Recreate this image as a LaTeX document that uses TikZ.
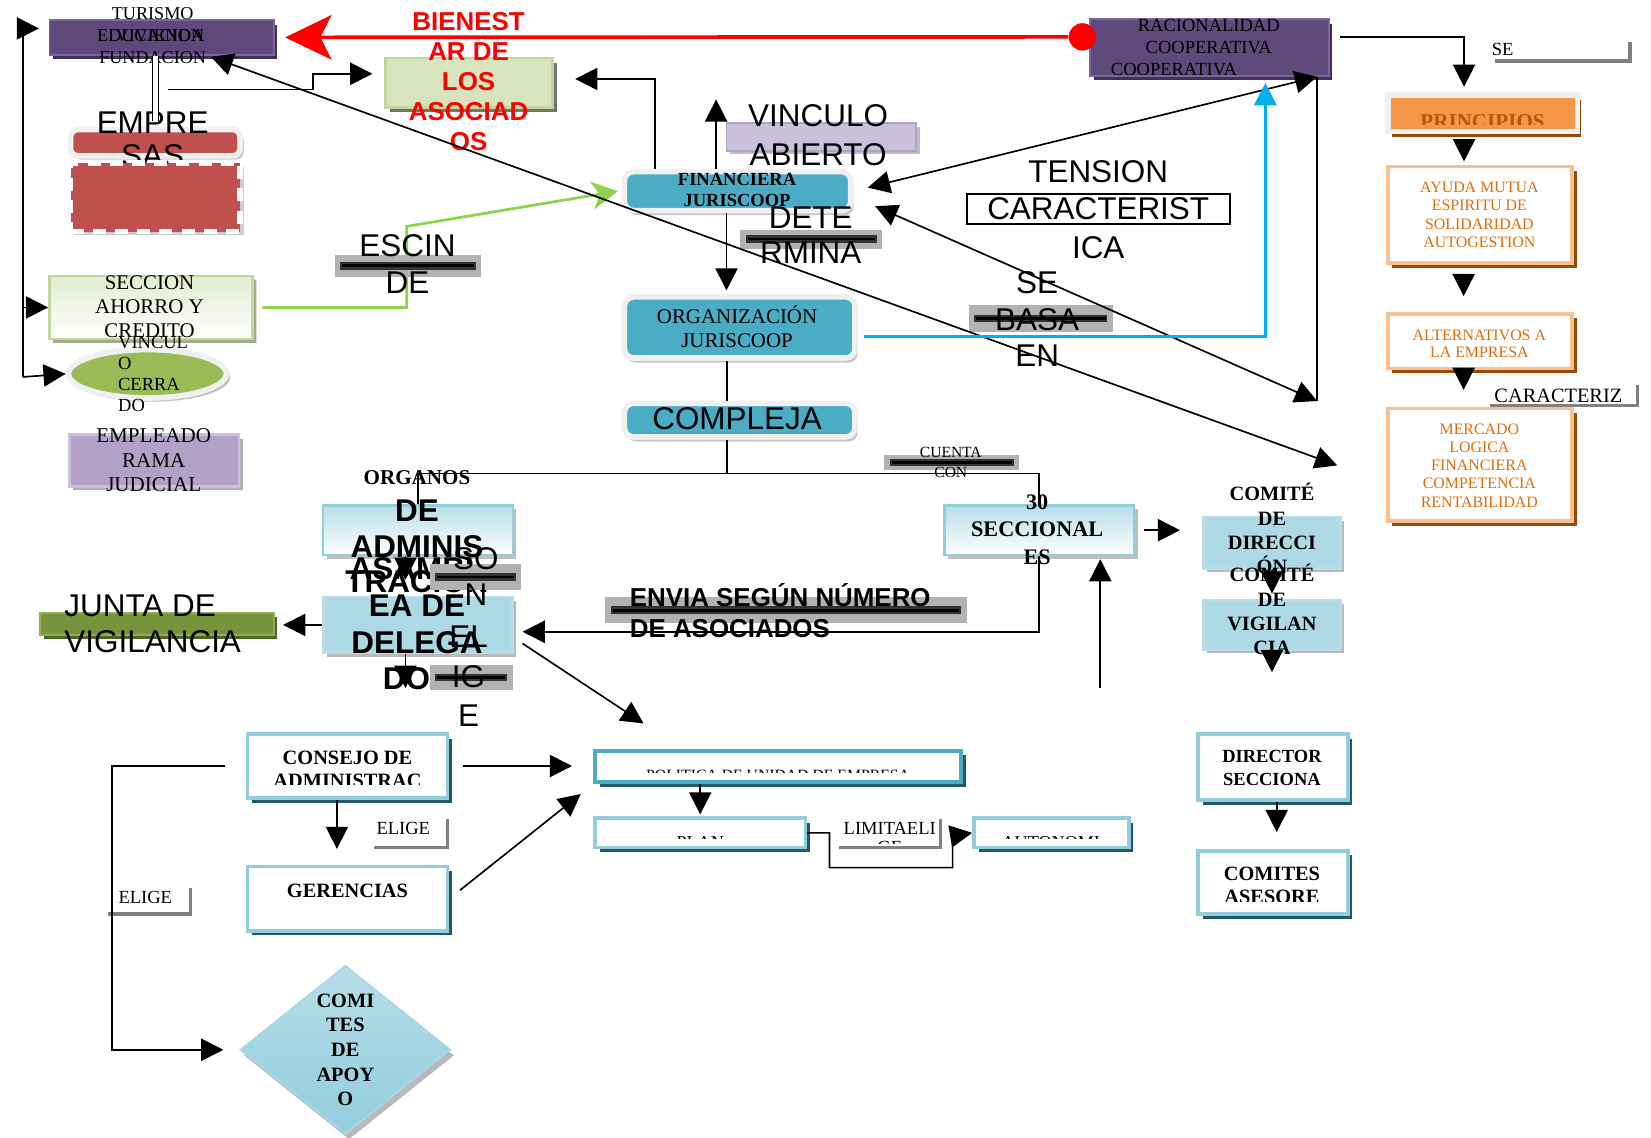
\documentclass[tikz,border=0pt]{standalone}
\usepackage{fontspec}
\setmainfont{Liberation Serif}
\setsansfont{Liberation Sans}
\usetikzlibrary{arrows.meta,shapes.geometric,shapes.misc,shadows}
\definecolor{purpleF}{HTML}{5F497A}
\definecolor{purpleD}{HTML}{8064A2}
\definecolor{purpleS}{HTML}{3F3151}
\definecolor{redE}{HTML}{C0504D}
\definecolor{greenL}{HTML}{D7E4BD}
\definecolor{greenB}{HTML}{C3D69B}
\definecolor{greenM}{HTML}{9BBB59}
\definecolor{greenD}{HTML}{4F6228}
\definecolor{olive}{HTML}{77933C}
\definecolor{lilac}{HTML}{B3A2C7}
\definecolor{lilacL}{HTML}{CCC1DA}
\definecolor{blueJ}{HTML}{4BACC6}
\definecolor{blueL}{HTML}{B7DDE8}
\definecolor{blueM}{HTML}{92CDDC}
\definecolor{blueS}{HTML}{215968}
\definecolor{cyanL}{HTML}{00B0F0}
\definecolor{greenA}{HTML}{92D050}
\definecolor{orangeF}{HTML}{F79646}
\definecolor{orangeB}{HTML}{FAC090}
\definecolor{orangeS}{HTML}{984807}
\definecolor{orangeT}{HTML}{E36C09}
\newcommand{\fsz}[2]{\fontsize{#1}{#2}\selectfont}
\begin{document}
\begin{tikzpicture}[x=0.02cm,y=-0.02cm,>={Triangle[length=12pt,width=12pt]}]
\tikzstyle{purplebox}=[rectangle,inner sep=0pt,fill=purpleF,draw=purpleD,line width=1pt,drop shadow={shadow xshift=2pt,shadow yshift=-2.5pt,fill=purpleS,opacity=1}]
\tikzstyle{greenbox}=[rectangle,inner sep=0pt,fill=greenL,draw=greenB,line width=1.5pt,drop shadow={shadow xshift=2.5pt,shadow yshift=-2.5pt,fill=gray!70!greenD,opacity=1}]
\tikzstyle{redtop}=[rectangle,inner sep=0pt,rounded corners=4pt,fill=redE,draw=white!94!black,line width=3pt,drop shadow={shadow xshift=2pt,shadow yshift=-2pt,fill=gray!40,opacity=1}]
\tikzstyle{redbot}=[rectangle,inner sep=0pt,fill=redE,draw=white,line width=3pt,dash pattern=on 7pt off 5pt,drop shadow={shadow xshift=2pt,shadow yshift=-2pt,fill=gray!40,opacity=1}]
\tikzstyle{sacbox}=[chamfered rectangle,chamfered rectangle xsep=6pt,inner sep=0pt,top color=greenL!70,bottom color=white,draw=greenB,line width=1.5pt,drop shadow={shadow xshift=2pt,shadow yshift=-2pt,fill=gray!50!greenB,opacity=1}]
\tikzstyle{vinshape}=[ellipse,inner sep=0pt,fill=greenM,draw=white!94!black,line width=3pt,drop shadow={shadow xshift=2pt,shadow yshift=-2pt,fill=gray!50,opacity=1}]
\tikzstyle{lilacbox}=[rectangle,inner sep=0pt,fill=lilac,draw=lilacL,line width=1.5pt,drop shadow={shadow xshift=2pt,shadow yshift=-2pt,fill=gray!60,opacity=1}]
\tikzstyle{lilacpale}=[rectangle,inner sep=0pt,fill=lilacL,draw=lilac,line width=1pt,drop shadow={shadow xshift=2pt,shadow yshift=-2pt,fill=gray!50,opacity=1}]
\tikzstyle{jbox}=[rectangle,inner sep=0pt,rounded corners=5pt,fill=blueJ,draw=white!94!black,line width=3pt,drop shadow={shadow xshift=1.5pt,shadow yshift=-2.5pt,fill=gray!45,opacity=1}]
\tikzstyle{gradbox}=[rectangle,inner sep=0pt,top color=blueL,bottom color=white,draw=blueM,line width=1.2pt,drop shadow={shadow xshift=2pt,shadow yshift=-2pt,fill=gray!50,opacity=1}]
\tikzstyle{hatchbox}=[rectangle,inner sep=0pt,fill=blueM!75,draw=blueL,line width=1.5pt,drop shadow={shadow xshift=2pt,shadow yshift=-2pt,fill=gray!55,opacity=1}]
\tikzstyle{olivebox}=[rectangle,inner sep=0pt,fill=olive,draw=greenM!70!olive,line width=1pt,drop shadow={shadow xshift=2pt,shadow yshift=-2pt,fill=greenD,opacity=1}]
\tikzstyle{whitebox}=[rectangle,inner sep=0pt,fill=white,draw=blueM,line width=2pt,drop shadow={shadow xshift=2.5pt,shadow yshift=-2.5pt,fill=blueS,opacity=1}]
\tikzstyle{prinbox}=[rectangle,inner sep=0pt,fill=orangeF,draw=white!94!black,line width=3pt,drop shadow={shadow xshift=2pt,shadow yshift=-3pt,fill=orangeS,opacity=1}]
\tikzstyle{orangebox}=[rectangle,inner sep=0pt,fill=white,draw=orangeB,line width=2pt,drop shadow={shadow xshift=2.5pt,shadow yshift=-2.5pt,fill=orangeS,opacity=1}]
\tikzstyle{apobox}=[diamond,aspect=1.25,inner sep=0pt,top color=blueL,bottom color=blueM,draw=blueM!80,line width=1pt,drop shadow={shadow xshift=2pt,shadow yshift=-3pt,fill=gray!55,opacity=1}]
\tikzstyle{labelbar}=[rectangle,inner sep=0pt,fill=gray!60,path picture={\draw[gray!40!black,line width=4pt] ([xshift=3pt]path picture bounding box.west) -- ([xshift=-3pt]path picture bounding box.east); \draw[black,line width=1.5pt] ([xshift=4pt]path picture bounding box.west) -- ([xshift=-4pt]path picture bounding box.east);}]
\tikzstyle{grayL}=[draw=gray,line width=1.8pt]
\tikzstyle{conn}=[line width=0.9pt]
\tikzstyle{big}=[font=\sffamily\fsz{17}{20},align=center]
\useasboundingbox (0,0) rectangle (1568,1080);

\node[purplebox,minimum width=4.26cm,minimum height=0.66cm] (EDU) at (153.5,35.5) {};
\node[purplebox,minimum width=4.54cm,minimum height=1.08cm] (RAC) at (1148.5,45) {};
\node[greenbox,minimum width=3.18cm,minimum height=0.94cm] (BIEN) at (445.5,78.5) {};
\node[redtop,minimum width=3.22cm,minimum height=0.5cm] (EMPT) at (147.5,135.5) {};
\node[sacbox,minimum width=3.86cm,minimum height=1.2cm] (SAC) at (143.5,292) {};
\node[vinshape,minimum width=3cm,minimum height=0.92cm] (VIN) at (140,355) {};
\node[lilacbox,minimum width=3.22cm,minimum height=0.98cm] (EMPL) at (146.5,437.5) {};
\node[lilacpale,minimum width=3.6cm,minimum height=0.52cm] (VABI) at (780,130) {};
\node[jbox,minimum width=4.3cm,minimum height=0.74cm] (FIN) at (700.5,181.5) {};
\node[jbox,minimum width=4.38cm,minimum height=1.16cm] (ORG) at (702.5,311) {};
\node[jbox,minimum width=4.38cm,minimum height=0.64cm] (COMP) at (702.5,399) {};
\node[gradbox,minimum width=3.6cm,minimum height=0.94cm] (ORGA) at (397,503.5) {};
\node[hatchbox,minimum width=3.6cm,minimum height=1.06cm] (ASAM) at (397,593.5) {};
\node[olivebox,minimum width=4.44cm,minimum height=0.42cm] (JUNTA) at (149,592.5) {};
\node[gradbox,minimum width=3.6cm,minimum height=0.94cm] (SECC) at (987,503.5) {};
\node[hatchbox,minimum width=2.6cm,minimum height=0.98cm] (CDIR) at (1208,515.5) {};
\node[hatchbox,minimum width=2.6cm,minimum height=0.94cm] (CVIG) at (1208,593.5) {};
\node[whitebox,minimum width=2.84cm,minimum height=1.26cm] (DIRS) at (1209,728.5) {};
\node[whitebox,minimum width=2.84cm,minimum height=1.2cm] (CASE) at (1209,838) {};
\node[whitebox,minimum width=3.8cm,minimum height=1.22cm] (CONS) at (330,727.5) {};
\node[whitebox,minimum width=3.8cm,minimum height=1.22cm] (GER) at (330,853.5) {};
\node[whitebox,draw=blueJ,minimum width=6.96cm,minimum height=0.6cm] (POL) at (739,728) {};
\node[whitebox,minimum width=4cm,minimum height=0.56cm] (PLAN) at (665,791) {};
\node[whitebox,minimum width=2.94cm,minimum height=0.56cm] (AUTO) at (998.5,791) {};
\node[prinbox,minimum width=3.6cm,minimum height=0.7cm] (PRIN) at (1408,107.5) {};
\node[orangebox,minimum width=3.5cm,minimum height=1.84cm] (AYU) at (1405.5,204) {};
\node[orangebox,minimum width=3.5cm,minimum height=1.04cm] (ALT) at (1405.5,324) {};
\node[orangebox,minimum width=3.5cm,minimum height=2.14cm] (MER) at (1405.5,441.5) {};
\node[apobox,minimum width=4cm,minimum height=3.2cm] (APO) at (328,997) {};

\draw[grayL] (355,805) -- (425,805) -- (425,778);
\draw[grayL] (103,868) -- (181,868) -- (181,843);
\draw[grayL] (797,805) -- (893,805) -- (893,778);
\draw[grayL] (1420,58) -- (1548,58) -- (1548,40);
\draw[grayL] (1415,385) -- (1555,385) -- (1555,366);

\node[font=\fsz{9.8}{12}] (tTUR) at (145,13) {TURISMO};
\node[font=\fsz{9.8}{12}] (tEDU) at (143,34) {EDUCACION};
\node[font=\fsz{9.8}{12}] (tVIV) at (152,34) {VIVIENDA};
\node[font=\fsz{9.8}{12}] (tFUN) at (145,55) {FUNDACION};
\node[font=\sffamily\fsz{17}{17.6},align=center] (tEMP) at (145,132.5) {EMPRE\\SAS};
\node[redbot,minimum width=3.22cm,minimum height=1.3cm] (EMPB) at (147.5,187.5) {};
\node[font=\fsz{11.3}{13},align=center] (tSAC) at (142,291) {SECCION\\AHORRO Y\\CREDITO};
\node[font=\fsz{10}{11.3},align=left,anchor=west] (tVIN) at (106,355) {VINCUL\\O\\CERRA\\DO};
\node[font=\fsz{11.4}{13.3},align=center] (tEMPL) at (146,437) {EMPLEADO\\RAMA\\JUDICIAL};
\node[font=\sffamily\bfseries\fsz{14}{16.3},text=red,align=center] (tBIEN) at (445,77.5) {BIENEST\\AR DE\\LOS\\ASOCIAD\\OS};
\node[font=\sffamily\fsz{17}{21},align=center] (tVABI) at (777,128.5) {VINCULO\\ABIERTO};
\node[font=\bfseries\fsz{10}{11.3},align=center] (tFIN) at (700,180) {FINANCIERA\\JURISCOOP};
\node[font=\fsz{11.3}{13},align=center] (tORG) at (700,310.5) {ORGANIZACIÓN\\JURISCOOP};
\node[big] (tCOMP) at (700,398) {COMPLEJA};
\node[big] (tTEN) at (1043,163) {TENSION};
\node[big,draw,line width=1pt,inner sep=0pt,minimum width=5cm,minimum height=0.58cm] (CAR) at (1043,198.5) {CARACTERIST};
\node[big] (tICA) at (1043,235) {ICA};
\node[font=\fsz{10}{11.9},align=center] (tRAC) at (1148,34.5) {RACIONALIDAD\\COOPERATIVA};
\node[font=\fsz{10}{11.9}] (tRAC2) at (1115,66) {COOPERATIVA};
\node[font=\fsz{10}{12}] (tSE) at (1427,47) {SE};
\begin{scope}
\clip (1318,90) rectangle (1498,118);
\node[font=\bfseries\fsz{11.4}{13},text=orangeT!80!black] (tPRIN) at (1408,115.5) {PRINCIPIOS};
\end{scope}
\node[font=\fsz{8.6}{9.9},text=orangeT,align=center] (tAYU) at (1405,204) {AYUDA MUTUA\\ESPIRITU DE\\SOLIDARIDAD\\AUTOGESTION};
\begin{scope}
\clip (1318,298) rectangle (1493,340);
\node[font=\fsz{8.6}{9.6},text=orangeT,align=center] (tALT) at (1405,326.5) {ALTERNATIVOS A\\LA EMPRESA};
\end{scope}
\node[font=\fsz{8.6}{9.9},text=orangeT,align=center] (tMER) at (1405,442) {MERCADO\\LOGICA\\FINANCIERA\\COMPETENCIA\\RENTABILIDAD};
\node[font=\fsz{11}{13}] (tCARZ) at (1480,376) {CARACTERIZ};
\node[font=\bfseries\fsz{11.4}{13}] (tORGS) at (396,454) {ORGANOS};
\node[font=\sffamily\bfseries\fsz{17}{19.3},align=center] (tDEAD) at (396,519) {DE\\ADMINIS\\TRACIÓN};
\node[font=\sffamily\bfseries\fsz{17}{19.8},align=center] (tASAM) at (396,592.5) {ASAMBL\\EA DE\\DELEGA\\DOS};
\node[font=\sffamily\fsz{17}{19.8},align=left,anchor=west] (tJUN) at (55,592.5) {JUNTA DE\\VIGILANCIA};
\node[font=\bfseries\fsz{12}{14.7},align=center] (tSECC) at (985,503) {30\\SECCIONAL\\ES};
\node[font=\bfseries\fsz{11}{13.2},align=center] (tCDIR) at (1208,502) {COMITÉ\\DE\\DIRECCI\\ÓN};
\node[font=\bfseries\fsz{11}{13.2},align=center] (tCVIG) at (1208,579) {COMITÉ\\DE\\VIGILAN\\CIA};
\node[font=\bfseries\fsz{10}{12.5},align=center] (tDIRS) at (1208,729) {DIRECTOR\\SECCIONA};
\begin{scope}
\clip (1138,808) rectangle (1280,856);
\node[font=\bfseries\fsz{11}{12.5},align=center] (tCASE) at (1208,841) {COMITES\\ASESORE};
\end{scope}
\begin{scope}
\clip (235,697) rectangle (425,745);
\node[font=\bfseries\fsz{11}{12.5},align=center] (tCONS) at (330,731) {CONSEJO DE\\ADMINISTRAC};
\end{scope}
\node[font=\bfseries\fsz{11}{13}] (tGER) at (330,846) {GERENCIAS};
\node[font=\bfseries\fsz{11}{13.3},align=center] (tAPO) at (328,997) {COMI\\TES\\DE\\APOY\\O};
\begin{scope}
\clip (565,713) rectangle (913,733.5);
\node[font=\fsz{8.5}{10}] (tPOL) at (739,736) {POLITICA DE UNIDAD DE EMPRESA};
\end{scope}
\begin{scope}
\clip (565,777) rectangle (1072,796.5);
\node[font=\fsz{9.8}{12}] (tPLAN) at (665,800) {PLAN};
\node[font=\fsz{9.8}{12}] (tAUTO) at (998,800) {AUTONOMI};
\end{scope}
\node[font=\fsz{10}{12}] (tELG1) at (383,787) {ELIGE};
\node[font=\fsz{10}{12}] (tELG2) at (138,852) {ELIGE};
\begin{scope}
\clip (797,770) rectangle (893,801);
\node[font=\fsz{10}{10.2},align=center] (tLIM) at (845,796) {LIMITAELI\\GE};
\end{scope}

\draw[conn,draw=greenA,line width=1.5pt,-{Stealth[length=14pt,width=15pt,inset=4pt]}] ([xshift=4.5pt]SAC.east) -- ++(137,0) -- ++(0,-77) -- ([xshift=-2pt]FIN.west);

\node[labelbar,minimum width=2.78cm,minimum height=0.42cm] (ESCB) at (387.5,252.5) {};
\node[labelbar,minimum width=2.7cm,minimum height=0.36cm] (DETB) at (770.5,227) {};
\node[labelbar,minimum width=2.74cm,minimum height=0.5cm] (BASB) at (988.5,302.5) {};
\node[labelbar,minimum width=1.74cm,minimum height=0.5cm] (SONB) at (451.5,548) {};
\node[labelbar,minimum width=1.58cm,minimum height=0.46cm] (ELGB) at (447.5,643.5) {};
\node[labelbar,minimum width=2.56cm,minimum height=0.28cm] (CUEB) at (904,439) {};
\node[labelbar,minimum width=6.86cm,minimum height=0.5cm] (ENVB) at (746.5,579.5) {};
\node[font=\sffamily\fsz{17}{19.8},align=center] (tESC) at (387,250.5) {ESCIN\\DE};
\node[font=\sffamily\fsz{17}{18.7},align=center] (tDET) at (770,223.5) {DETE\\RMINA};
\node[font=\sffamily\fsz{17}{19.8},align=center] (tBASA) at (985,303) {SE\\BASA\\EN};
\node[font=\sffamily\fsz{17}{19.8},align=center] (tSON) at (452,547.5) {SO\\N};
\node[font=\sffamily\fsz{17}{21.3},align=center] (tELG) at (445,642.5) {EL\\IG\\E};
\node[font=\fsz{8.4}{10.8},align=center] (tCUEN) at (903,439.5) {CUENTA\\CON};
\node[font=\sffamily\bfseries\fsz{14}{17},align=left,anchor=west] (tENV) at (592,580) {ENVIA SEGÚN NÚMERO\\DE ASOCIADOS};

\coordinate (LT) at (22,27);
\coordinate (LB) at (22,358);
\coordinate (BS) at (160,85);
\coordinate (CT) at (1270,442);
\draw[conn,->] (LB) -- (LT) -- ++(15,0);
\draw[conn,->] (LB |- SAC.west) -- (SAC.west);
\draw[conn,->] (LB) -- (VIN.west);
\draw[double,double distance=2.5pt,line width=0.7pt] (EDU.south -| EMPT.north) -- ++(0,62);
\draw[conn,->,shorten >=0.22cm] (BS) -- ++(137,0) |- ([yshift=4.8pt]BIEN.west);
\draw[conn,->,shorten >=0.4cm] ([xshift=-44.5pt]FIN.north) |- ([yshift=2pt]BIEN.east);
\draw[conn,->] ([xshift=-11.6pt]FIN.north) -- ++(0,-66);
\draw[conn,->,shorten >=2pt] ([xshift=-6pt]FIN.south) -- ([xshift=-6pt]FIN.south |- ORG.north);
\draw[conn] ([xshift=-7pt]ORG.south) -- ([xshift=-7pt]ORG.south |- COMP.north);
\draw[conn] ([xshift=-7pt]COMP.south) -- ++(0,32) coordinate (HC);
\draw[conn] (ORGA.north) |- (HC) -| (SECC.north);
\draw[conn,->,shorten <=0.16cm,shorten >=0.42cm] (SECC.east) -- (SECC.east -| CDIR.west);
\draw[conn,<-,shorten <=0.06cm] ([xshift=33pt]SECC.south) -- ++(0,125);
\draw[conn,->,shorten >=0.16cm] (SECC.south) |- ([yshift=-3.7pt]ASAM.east);
\draw[conn,->,shorten >=0.16cm] (ASAM.west) -- (ASAM.west -| JUNTA.east);
\draw[conn,->,shorten >=0.3cm] ([xshift=-6.8pt]ORGA.south) -- ([xshift=-6.8pt]ASAM.north);
\draw[conn,->] ([xshift=-6.8pt]ASAM.south) -- ++(0,32);
\draw[conn,->] ([xshift=4.5pt,yshift=-10pt]ASAM.east) -- ++(115,76);
\draw[conn,->,shorten <=0.26cm,shorten >=0.4cm] (CONS.east) -- (CONS.east -| POL.west);
\draw[conn,->,shorten <=0.26cm,shorten >=0.3cm] (GER.east) -- (POL.south west);
\draw[conn,->,shorten >=0.3cm] ([xshift=-5.7pt]CONS.south) -- ([xshift=-5.7pt]GER.north);
\draw[conn,->,shorten >=0.3cm] ([xshift=-11.3pt]CONS.west) -- ++(-107,0) |- (APO.west);
\draw[conn,->,shorten >=1pt] (POL.south -| PLAN.north) -- (PLAN.north);
\draw[conn,->] (PLAN.east) -- ++(21,0) -- ++(0,33) -- ++(117,0) -- ++(0,-30) -- (AUTO.west);
\draw[conn,->,shorten >=0.1cm] ([xshift=5.7pt,yshift=5.7pt]RAC.east) -| ([xshift=-10pt]PRIN.north);
\draw[conn,->,shorten <=0.2cm,shorten >=0.06cm] ([xshift=-10pt]PRIN.south) -- ([xshift=-10pt]PRIN.south |- AYU.north);
\draw[conn,->,shorten <=0.16cm,shorten >=0.3cm] ([xshift=-8.8pt]AYU.south) -- ([xshift=-8.8pt]ALT.north);
\draw[conn,->,shorten >=0.32cm] ([xshift=-8.8pt]ALT.south) -- ([xshift=-8.8pt]MER.north);
\draw[conn] ([xshift=-6.8pt]RAC.south east) -- ++(0,308) coordinate (RV);
\draw[conn,<->,shorten <=0.28cm] (FIN.east) -- ([xshift=-6.8pt]RAC.south east);
\draw[conn,<->,shorten <=0.45cm] ([yshift=-3pt]FIN.east) -- (RV);
\draw[conn,<->,shorten <=0.06cm] ([xshift=25pt]EDU.south) -- (CT);
\draw[conn,draw=cyanL,line width=1.5pt,->,shorten >=0.12cm] ([xshift=3.4pt,yshift=-5pt]ORG.east) -| ([xshift=30.3pt]RAC.south);
\draw[conn,->,shorten >=0.1cm] (CDIR.south) -- (CVIG.north);
\draw[conn,->] (CVIG.south) -- ++(0,20);
\draw[conn,->,shorten >=0.32cm] ([xshift=2pt]DIRS.south) -- ([xshift=2pt]CASE.north);
\node[circle,fill=red,inner sep=0pt,minimum size=0.52cm] (DOT) at (1028,35) {};
\draw[draw=red,line width=2pt,-{Stealth[length=25pt,width=24pt,inset=6pt]},shorten >=0.2cm] (DOT) -- (EDU.east);
\end{tikzpicture}
\end{document}
